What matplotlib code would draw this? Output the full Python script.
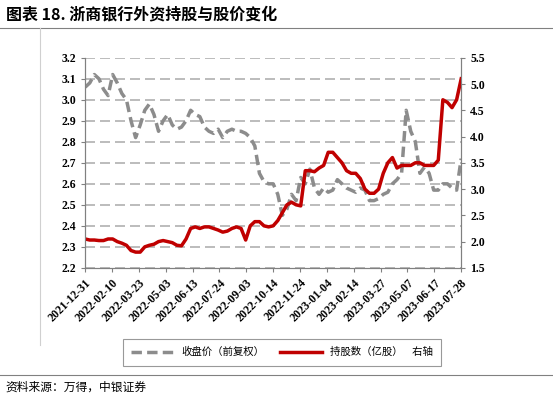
import matplotlib.pyplot as plt
import matplotlib.dates as mdates
import numpy as np
import pandas as pd

plt.rcParams['font.family'] = ['Noto Sans CJK SC', 'DejaVu Sans']

# weekly samples
dates = pd.date_range('2021-12-31', periods=83, freq='7D')
price = [3.06, 3.08, 3.12, 3.10, 3.05, 3.02, 3.12, 3.08, 3.03, 3.00,
         2.90, 2.82, 2.88, 2.95, 2.98, 2.93, 2.85, 2.90, 2.93, 2.88,
         2.86, 2.87, 2.90, 2.95, 2.93, 2.92, 2.87, 2.85, 2.84, 2.86,
         2.82, 2.85, 2.86, 2.85, 2.85, 2.84, 2.82, 2.78, 2.65, 2.61,
         2.60, 2.60, 2.55, 2.45, 2.48, 2.55, 2.52, 2.63, 2.60, 2.67,
         2.58, 2.55, 2.58, 2.56, 2.57, 2.62, 2.60, 2.58, 2.57, 2.56,
         2.58, 2.57, 2.52, 2.52, 2.53, 2.55, 2.56, 2.60, 2.62, 2.65,
         2.95, 2.85, 2.80, 2.65, 2.68, 2.65, 2.57, 2.57, 2.60, 2.60,
         2.58, 2.57, 2.72]
shares = [2.05, 2.03, 2.03, 2.02, 2.02, 2.05, 2.05, 2.00, 1.97, 1.93,
          1.83, 1.80, 1.80, 1.90, 1.93, 1.95, 2.00, 2.02, 2.00, 1.98,
          1.93, 1.92, 2.05, 2.25, 2.28, 2.25, 2.28, 2.28, 2.25, 2.22,
          2.18, 2.20, 2.25, 2.28, 2.25, 2.03, 2.30, 2.38, 2.38, 2.30,
          2.28, 2.30, 2.40, 2.55, 2.70, 2.75, 2.70, 2.68, 3.35, 3.35,
          3.33, 3.40, 3.45, 3.70, 3.70, 3.60, 3.50, 3.35, 3.30, 3.30,
          3.20, 3.00, 2.92, 2.92, 3.00, 3.30, 3.50, 3.60, 3.40, 3.45,
          3.45, 3.45, 3.50, 3.50, 3.45, 3.45, 3.45, 3.55, 4.70, 4.65,
          4.55, 4.70, 5.10]
ticks = pd.date_range('2021-12-31', '2023-07-28', freq='41D')

fig = plt.figure(figsize=(5.53, 4.01), dpi=100)
ax = fig.add_axes([0.154, 0.332, 0.68, 0.524])
ax2 = ax.twinx()

ax.plot(dates, price, color='#8c8c8c', lw=2.5, ls=(0, (3, 1.5)), label='收盘价（前复权）')
ax2.plot(dates, shares, color='#c00000', lw=2.5, label='持股数（亿股）    右轴')

ax.set_ylim(2.2, 3.2)
ax.set_yticks(np.arange(2.2, 3.21, 0.1))
ax2.set_ylim(1.5, 5.5)
ax2.set_yticks(np.arange(1.5, 5.51, 0.5))
ax.set_xlim(dates[0], pd.Timestamp('2023-07-28'))
ax.set_xticks(ticks)
ax.xaxis.set_major_formatter(mdates.DateFormatter('%Y-%m-%d'))
ax.grid(axis='y', color='#b0b0b0', ls=(0, (6, 3)), lw=1.2)
ax.set_axisbelow(True)

for a in (ax, ax2):
    a.spines['top'].set_visible(False)
    a.spines['left'].set_color('#808080')
    a.spines['right'].set_color('#808080')
    a.spines['bottom'].set_color('#808080')
    a.tick_params(labelsize=8.5, length=3, color='#808080')
for lab in ax.get_yticklabels() + ax2.get_yticklabels() + ax.get_xticklabels():
    lab.set_fontfamily('Liberation Serif')
    lab.set_fontweight('bold')
plt.setp(ax.get_xticklabels(), rotation=45, ha='right', rotation_mode='anchor', fontsize=8.5)

h1, l1 = ax.get_legend_handles_labels()
h2, l2 = ax2.get_legend_handles_labels()
leg = fig.legend(h1 + h2, l1 + l2, loc='center', bbox_to_anchor=(0.51, 0.122),
                 ncol=2, fontsize=7.5, frameon=True, fancybox=False, edgecolor='#808080',
                 handlelength=4, columnspacing=1.5, borderpad=0.8)
leg.get_frame().set_linewidth(0.8)

fig.text(0.01, 0.965, '图表 18. 浙商银行外资持股与股价变化', fontsize=11.5, fontweight='bold', va='center')
fig.add_artist(plt.Line2D([0, 1], [0.93, 0.93], color='#808080', lw=0.8))
fig.add_artist(plt.Line2D([0.072, 0.072], [0.14, 0.93], color='#d0d0d0', lw=0.8))
fig.add_artist(plt.Line2D([0, 1], [0.065, 0.065], color='#808080', lw=0.8))
fig.text(0.01, 0.035, '资料来源：万得，中银证券', fontsize=8.5, style='italic', va='center')

fig.savefig('out.png', dpi=100)
